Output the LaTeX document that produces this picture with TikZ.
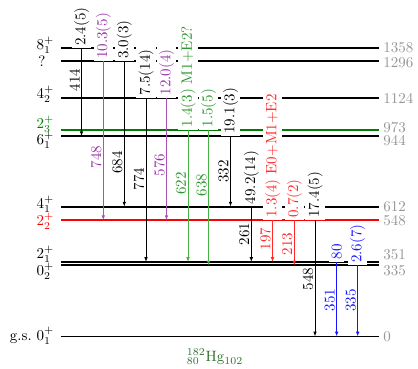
\documentclass[tikz,border=0pt]{standalone}
\usetikzlibrary{arrows.meta}
\definecolor{mypurple}{RGB}{155,50,170}
\definecolor{mygreen}{RGB}{40,150,40}
\definecolor{arrgreen}{RGB}{70,175,70}
\definecolor{lvlgreen}{RGB}{0,125,0}
\definecolor{myred}{RGB}{255,40,40}
\definecolor{myblue}{RGB}{20,20,255}
\definecolor{egray}{RGB}{150,150,150}
\definecolor{hggreen}{RGB}{45,110,45}
\newcommand\mktrans[9]{%
  \coordinate (#1a) at (#2,#3);
  \coordinate (#1b) at (#2,#4);
  \draw[tr,#5] (#1a) -- (#1b);
  \node[elab,text=#6] (#1e) at (#2,#7) {#1};
  \node[ilab,text=#6] (#1i) at (#1a) {#8};
  #9}
\begin{document}
\begin{tikzpicture}[x=0.6667pt,y=-0.6667pt,
  lvl/.style={line width=1.3pt},
  tr/.style={line width=0.6pt,-{Latex[length=3.2pt,width=2.4pt]}},
  elab/.style={rotate=90,anchor=south,inner sep=1pt},
  ilab/.style={rotate=90,anchor=west,inner sep=1.5pt,fill=white},
  spin/.style={anchor=base east,inner sep=0pt},
  en/.style={anchor=west,inner sep=0pt,text=egray}]
\useasboundingbox (0,0) rectangle (418,368);
% levels
\foreach \n/\y/\c in {1358/48.3/black,1296/61.4/black,1124/98.0/black,973/130.0/lvlgreen,944/136.2/black,612/206.6/black,548/220.2/red,351/262.0/black,335/265.4/black,0/336.5/black}{
  \coordinate (L\n a) at (61,\y);
  \coordinate (L\n b) at (379,\y);
  \draw[lvl,draw=\c] (L\n a) -- (L\n b);
}
% spin labels
\node[spin] (s1358) at (54.5,49.8) {$8_1^+$};
\node (s1296) at (42,61) {?};
\node[spin] (s1124) at (54.5,98.8) {$4_2^+$};
\node[spin,text=lvlgreen] (s973) at (54.5,128.8) {$2_3^+$};
\node[spin] (s944) at (54.5,144.8) {$6_1^+$};
\node[spin] (s612) at (54.5,208.8) {$4_1^+$};
\node[spin,text=red] (s548) at (54.5,225.8) {$2_2^+$};
\node[spin] (s351) at (54.5,258.8) {$2_1^+$};
\node[spin] (s335) at (54.5,275.8) {$0_2^+$};
\node[spin] (s0) at (54.5,340) {g.s.\ $0_1^+$};
% energies
\node[en] (e1358) at (383,47.5) {1358};
\node[en] (e1296) at (383,62.5) {1296};
\node[en] (e1124) at (383,98) {1124};
\node[en] (e973) at (383,127.5) {973};
\node[en] (e944) at (383,141) {944};
\node[en] (e612) at (383,207) {612};
\node[en] (e548) at (383,220.5) {548};
\node[en] (e351) at (383,255) {351};
\node[en] (e335) at (383,271) {335};
\node[en] (e0) at (383,337) {0};
% transitions
\mktrans{414}{81.5}{48.3}{136.2}{black}{black}{80}{2.4(5)}{}
\mktrans{748}{103.3}{61.4}{220.2}{mypurple!85}{mypurple}{157}{10.3(5)}{}
\mktrans{684}{124.3}{61.4}{206.6}{black}{black}{162.5}{3.0(3)}{}
\mktrans{774}{146}{98.0}{262.0}{black}{black}{179}{7.5(14)}{}
\mktrans{576}{166.5}{98.0}{220.2}{mypurple!85}{mypurple}{165}{12.0(4)}{}
\mktrans{622}{188}{130.0}{262.0}{arrgreen}{mygreen}{183.5}{1.4(3) M1$+$E2?}{}
\mktrans{638}{208.5}{130.0}{265.4}{arrgreen}{mygreen}{185}{1.5(5)}{}
\mktrans{332}{230.5}{136.2}{206.6}{black}{black}{171.5}{19.1(3)}{}
\mktrans{261}{251.3}{206.6}{262.0}{black}{black}{234}{49.2(14)}{}
\mktrans{197}{272.5}{220.2}{262.0}{myred}{myred}{239}{1.3(4) E0$+$M1$+$E2}{}
\mktrans{213}{294.3}{220.2}{265.4}{myred}{myred}{244}{0.7(2)}{}
\mktrans{548}{315}{220.2}{336.5}{black}{black}{279}{17.4(5)}{}
\mktrans{351}{336.7}{262.0}{336.5}{myblue}{myblue}{300}{80}{}
\mktrans{335}{357.7}{265.4}{336.5}{myblue}{myblue}{300.5}{2.6(7)}{}
% nucleus
\node[text=hggreen] (hg) at (215,357) {${}^{182}_{80}\mathrm{Hg}_{102}$};
\end{tikzpicture}
\end{document}
